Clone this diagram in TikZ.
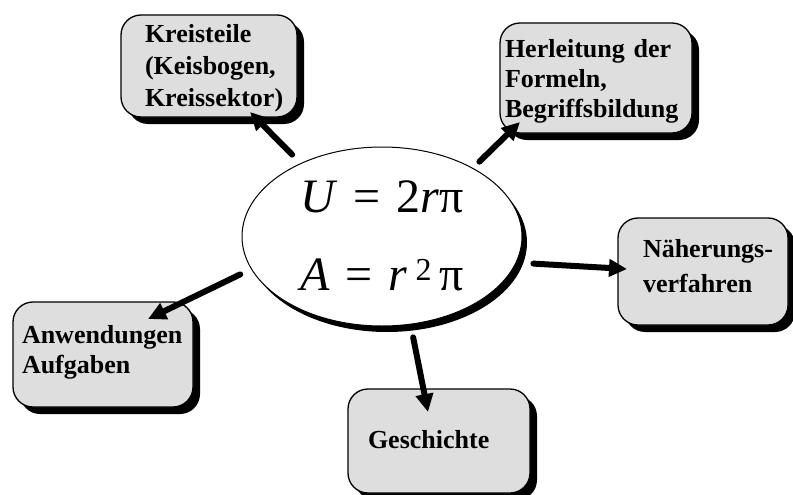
\documentclass[tikz,border=0pt]{standalone}
\usepackage{fontspec}
\setmainfont{Liberation Serif}
\usetikzlibrary{arrows.meta,shadows,shapes.geometric}
\definecolor{KreisGrau}{HTML}{DEDEDE}

\tikzset{
  thema/.style={draw=black, line width=1.3pt, fill=KreisGrau,
    rounded corners=20pt, inner sep=0pt, align=left,
    drop shadow={shadow xshift=7pt, shadow yshift=-7pt, fill=black, opacity=1},
    font=\bfseries\fontsize{26}{32}\selectfont},
  pfeil/.style={line width=6pt, line cap=round,
    -{Triangle[length=18pt,width=17pt]}}
}

\begin{document}
\begin{tikzpicture}[x=1pt,y=-1pt]
  \useasboundingbox (0,0) rectangle (793,495);

  % Mitte
  \node[ellipse, draw=black, line width=1pt, fill=white, inner sep=0pt,
    minimum width=280pt, minimum height=179pt,
    drop shadow={shadow xshift=5pt, shadow yshift=-6pt, fill=black, opacity=1},
    text width=170pt, align=center, text height=20pt, text depth=69pt,
    font=\fontsize{48}{78}\selectfont]
    (formel) at (382,236.5)
    {\textit{U} = 2\textit{r}π\\
     \textit{A} = \textit{r}\,\raisebox{10pt}{\fontsize{32}{32}\selectfont 2}\,π};

  % Themen
  \node[thema, minimum width=176pt, minimum height=102pt,
    text width=128pt, text height=25pt, text depth=71pt]
    (kreis) at (209,66) {Kreisteile\\(Keisbogen,\\Kreissektor)};

  \node[thema, minimum width=192pt, minimum height=110pt,
    text width=182pt, text height=25pt, text depth=65pt,
    font=\bfseries\fontsize{26}{30}\selectfont]
    (herl) at (596,78) {Herleitung der\\Formeln,\\Begriffsbildung};

  \node[thema, minimum width=170pt, minimum height=107pt,
    text width=120pt, text height=30pt, text depth=59pt,
    font=\bfseries\fontsize{26}{35}\selectfont]
    (naeh) at (703,271.5) {\mbox{Näherungs-}\\verfahren};

  \node[thema, minimum width=180pt, minimum height=105pt,
    text width=162pt, text height=30pt, text depth=52pt,
    font=\bfseries\fontsize{26}{30}\selectfont]
    (anw) at (103,354.5) {Anwendungen\\Aufgaben};

  \node[thema, minimum width=182pt, minimum height=104pt,
    text width=142pt, text height=30pt, text depth=16pt]
    (gesch) at (439,441) {Geschichte};

  % Pfeilspitzen
  \coordinate (kreis-tip) at (250,112);
  \coordinate (herl-tip) at (520,122);
  \coordinate (naeh-tip) at (627,269);
  \coordinate (anw-tip) at (148,319);
  \coordinate (gesch-tip) at (428,412);

  \draw[pfeil, shorten <=12pt] (formel.138) -- (kreis-tip);
  \draw[pfeil, shorten <=9pt] (formel.37) -- (herl-tip);
  \draw[pfeil, shorten <=17pt] (formel.349) -- (naeh-tip);
  \draw[pfeil, shorten <=12pt] (formel.194) -- (anw-tip);
  \draw[pfeil, shorten <=13pt] (formel.288) -- (gesch-tip);

\end{tikzpicture}
\end{document}
